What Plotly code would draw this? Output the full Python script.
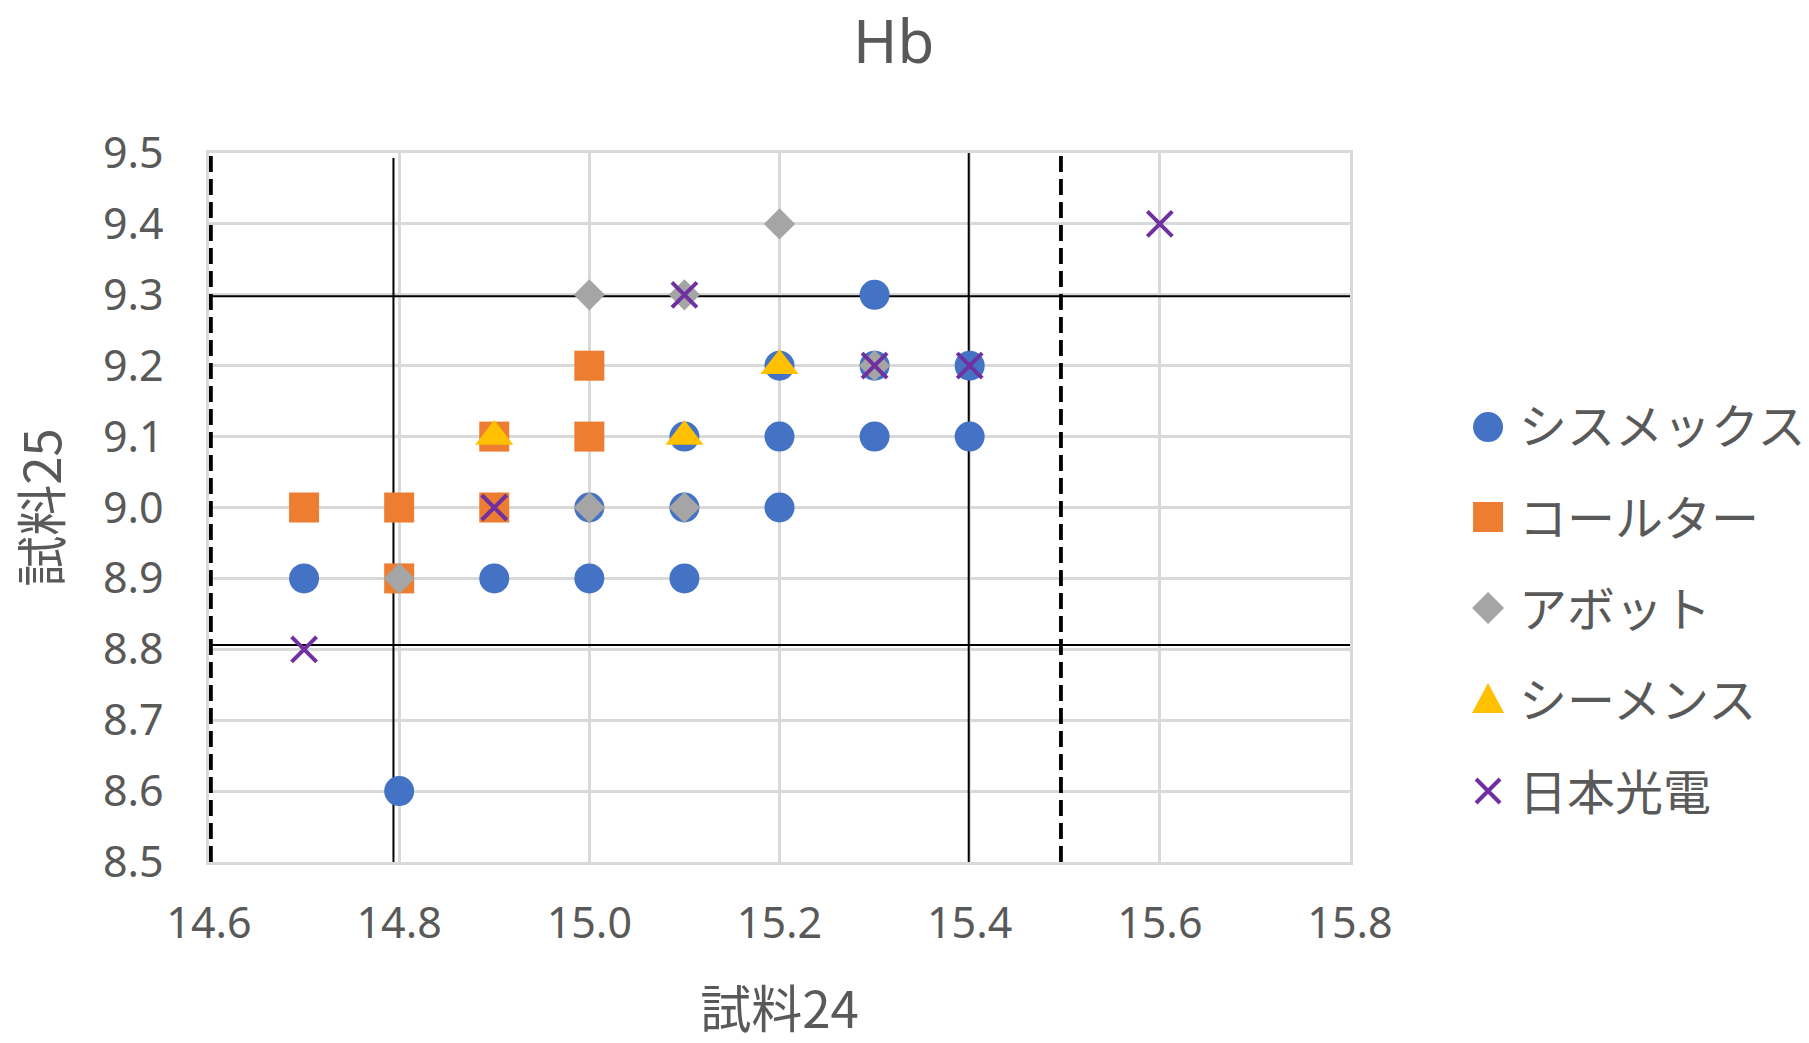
import plotly.graph_objects as go

# ---- data ----
series_names = ["シスメックス", "コールター", "アボット", "シーメンス", "日本光電"]

sysmex_x = [15.3, 15.2, 15.3, 15.4, 15.1, 15.2, 15.3, 15.4, 15.0, 15.1, 15.2, 14.7, 14.9, 15.0, 15.1, 14.8]
sysmex_y = [9.3, 9.2, 9.2, 9.2, 9.1, 9.1, 9.1, 9.1, 9.0, 9.0, 9.0, 8.9, 8.9, 8.9, 8.9, 8.6]

coulter_x = [15.0, 14.9, 15.0, 14.7, 14.8, 14.9, 14.8]
coulter_y = [9.2, 9.1, 9.1, 9.0, 9.0, 9.0, 8.9]

abbott_x = [15.2, 15.0, 15.1, 15.3, 15.0, 15.1, 14.8]
abbott_y = [9.4, 9.3, 9.3, 9.2, 9.0, 9.0, 8.9]

siemens_x = [15.2, 14.9, 15.1]
siemens_y = [9.2, 9.1, 9.1]

nihon_x = [15.6, 15.1, 15.3, 15.4, 14.9, 14.7]
nihon_y = [9.4, 9.3, 9.2, 9.2, 9.0, 8.8]

x_ticks = [14.6, 14.8, 15.0, 15.2, 15.4, 15.6, 15.8]
y_ticks = [8.5, 8.6, 8.7, 8.8, 8.9, 9.0, 9.1, 9.2, 9.3, 9.4, 9.5]

# reference lines
solid_v = [14.794, 15.399]
dashed_v = [14.602, 15.496]
solid_h = [9.298, 8.806]

title_text = "Hb"
x_title = "試料24"
y_title = "試料25"

# ---- styling ----
colors = ["#4472C4", "#ED7D31", "#A5A5A5", "#FFC000", "#7030A0"]
TXT = "#595959"
JP = "Noto Sans CJK JP, Noto Sans, sans-serif"
NUM = "Noto Sans, Noto Sans CJK JP, sans-serif"

fig = go.Figure()
data = [(sysmex_x, sysmex_y), (coulter_x, coulter_y), (abbott_x, abbott_y),
        (siemens_x, siemens_y), (nihon_x, nihon_y)]
symbols = ["circle", "square", "diamond", "triangle-up", "x-thin"]
sizes = [30, 30, 24, 33, 25]

for i, (name, (xs, ys)) in enumerate(zip(series_names, data)):
    if symbols[i] == "x-thin":
        marker = dict(symbol="x-thin", size=sizes[i], color=colors[i],
                      line=dict(color=colors[i], width=4))
    else:
        marker = dict(symbol=symbols[i], size=sizes[i], color=colors[i],
                      line=dict(width=0))
    fig.add_trace(go.Scatter(x=xs, y=ys, mode="markers", name=name,
                             marker=marker, legendgroup=str(i),
                             cliponaxis=False))

shapes = []
for xv in solid_v:
    shapes.append(dict(type="line", xref="x", yref="y", x0=xv, x1=xv,
                       y0=8.494, y1=9.505 if xv > 15 else 9.493,
                       line=dict(color="black", width=2), layer="between"))
for xv in dashed_v:
    shapes.append(dict(type="line", xref="x", yref="y", x0=xv, x1=xv,
                       y0=8.5, y1=9.505,
                       line=dict(color="black", width=3.8, dash="16px,7px"),
                       layer="between"))
for yv in solid_h:
    shapes.append(dict(type="line", xref="x", yref="y", x0=14.597, x1=15.803,
                       y0=yv, y1=yv,
                       line=dict(color="black", width=2), layer="between"))

# enlarged legend symbols (drawn under the legend's own small symbols)
leg_x = 1.121
leg_y = [0.6135, 0.4866, 0.3583, 0.2299, 0.1001]
pix = dict(xref="paper", yref="paper", xsizemode="pixel", ysizemode="pixel",
           layer="above")
shapes.append(dict(type="circle", xanchor=leg_x, yanchor=leg_y[0],
                   x0=-15, x1=15, y0=-15, y1=15,
                   fillcolor=colors[0], line=dict(width=0), **pix))
shapes.append(dict(type="rect", xanchor=leg_x, yanchor=leg_y[1],
                   x0=-15, x1=15, y0=-15, y1=15,
                   fillcolor=colors[1], line=dict(width=0), **pix))
shapes.append(dict(type="path", xanchor=leg_x, yanchor=leg_y[2],
                   path="M-16,0 L0,16 L16,0 L0,-16 Z",
                   fillcolor=colors[2], line=dict(width=0), **pix))
shapes.append(dict(type="path", xanchor=leg_x, yanchor=leg_y[3],
                   path="M-16,-14 L16,-14 L0,16 Z",
                   fillcolor=colors[3], line=dict(width=0), **pix))
shapes.append(dict(type="path", xanchor=leg_x, yanchor=leg_y[4],
                   path="M-12,-12 L12,12 M-12,12 L12,-12",
                   line=dict(color=colors[4], width=4), **pix))

fig.update_layout(
    width=1809, height=1043,
    margin=dict(l=209, r=459, t=153, b=181, autoexpand=False),
    paper_bgcolor="white", plot_bgcolor="white",
    title=dict(text=title_text, x=0.494, xref="container", xanchor="center",
               y=0.96, yref="container", yanchor="middle",
               font=dict(family=NUM, size=60, color=TXT)),
    xaxis=dict(range=[14.6, 15.8], tickvals=x_ticks, tickformat=".1f",
               showgrid=True, gridcolor="#D9D9D9", gridwidth=2.5,
               showline=True, linecolor="#D9D9D9", linewidth=2.5, mirror=True,
               zeroline=False, ticks="", ticklabelstandoff=22,
               tickfont=dict(family=NUM, size=43, color=TXT),
               title=dict(text=x_title, standoff=58,
                          font=dict(family=JP, size=51, color=TXT))),
    yaxis=dict(range=[8.5, 9.5], tickvals=y_ticks, tickformat=".1f",
               showgrid=True, gridcolor="#D9D9D9", gridwidth=2.5,
               showline=True, linecolor="#D9D9D9", linewidth=2.5, mirror=True,
               zeroline=False, ticks="", ticklabelstandoff=34,
               tickfont=dict(family=NUM, size=43, color=TXT),
               title=dict(text=y_title, standoff=26,
                          font=dict(family=JP, size=51, color=TXT))),
    legend=dict(x=1.0938, xanchor="left", y=0.669, yanchor="top",
                font=dict(family=JP, size=48, color=TXT),
                tracegroupgap=26, itemsizing="constant", itemwidth=52,
                bgcolor="rgba(0,0,0,0)"),
    shapes=shapes,
    showlegend=True,
)

fig.write_html("out.html")
